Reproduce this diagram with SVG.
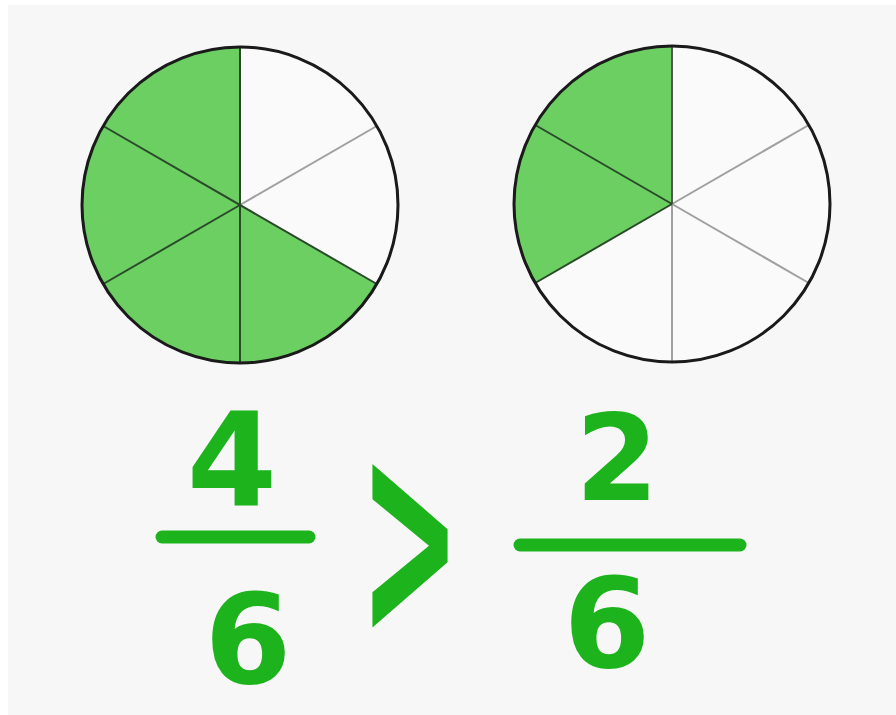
<svg xmlns="http://www.w3.org/2000/svg" width="896" height="715" viewBox="0 0 896 715">
<style>
.rim{fill:none;stroke:#1a1a1a;stroke-width:3}
.sp{stroke:#2a4a2a;stroke-width:2}
.sl{stroke:#a0a0a0;stroke-width:2}
.g{fill:#6ccf62}
.w{fill:#fafafa}
.num{font-family:"DejaVu Sans","Liberation Sans",sans-serif;font-weight:bold;fill:#1db31d;text-anchor:middle}
.bar{stroke:#1db31d;stroke-width:13;stroke-linecap:round}
</style>
<rect width="896" height="715" fill="#ffffff"/>
<rect x="8" y="5" width="888" height="710" fill="#f7f7f7"/>
<g id="circle-4-6">
<circle class="w" cx="240" cy="205" r="158"/>
<path class="g" d="M240 205 L376.8 284 A158 158 0 1 1 240 47 Z"/>
<line class="sl" x1="240" y1="205" x2="376.8" y2="126"/>
<line class="sp" x1="240" y1="47" x2="240" y2="363"/>
<line class="sp" x1="103.2" y1="126" x2="376.8" y2="284"/>
<line class="sp" x1="103.2" y1="284" x2="240" y2="205"/>
<circle class="rim" cx="240" cy="205" r="158"/>
</g>
<g id="circle-2-6">
<circle class="w" cx="672" cy="204" r="158"/>
<path class="g" d="M672 204 L535.2 283 A158 158 0 0 1 672 46 Z"/>
<line class="sl" x1="672" y1="204" x2="808.8" y2="125"/>
<line class="sl" x1="672" y1="204" x2="808.8" y2="283"/>
<line class="sl" x1="672" y1="204" x2="672" y2="362"/>
<line class="sp" x1="672" y1="46" x2="672" y2="204" style="stroke:#555"/>
<line class="sp" x1="535.2" y1="125" x2="672" y2="204"/>
<line class="sp" x1="535.2" y1="283" x2="672" y2="204"/>
<circle class="rim" cx="672" cy="204" r="158"/>
</g>
<g id="fraction-4-6">
<text class="num" x="232" y="505" font-size="130">4</text>
<line class="bar" x1="162" y1="537" x2="309" y2="537"/>
<text class="num" x="248" y="683" font-size="125">6</text>
</g>
<g id="greater">
<text class="num" transform="translate(410 636) scale(0.75 1.8)" x="0" y="0" font-size="160">&gt;</text>
</g>
<g id="fraction-2-6">
<text class="num" x="617" y="500" font-size="120">2</text>
<line class="bar" x1="520" y1="545" x2="740" y2="545"/>
<text class="num" x="607" y="667" font-size="125">6</text>
</g>
</svg>
